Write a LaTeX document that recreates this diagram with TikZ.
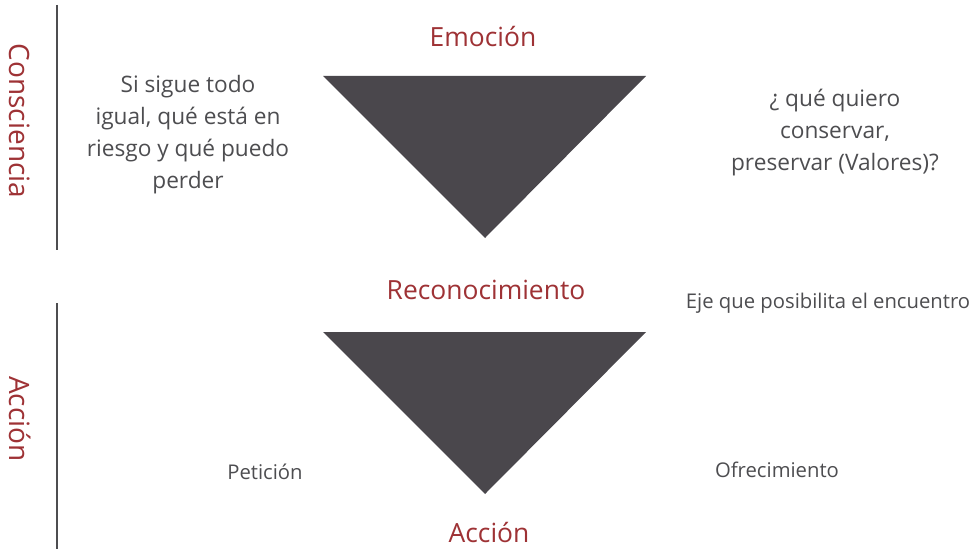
\documentclass[tikz,border=0pt]{standalone}
\usepackage{fontspec}
\setmainfont{Open Sans}
\usepackage{tikz}

\definecolor{rojo}{HTML}{9E3235}
\definecolor{oscuro}{HTML}{4A474C}
\definecolor{texto}{HTML}{4D4D50}

\tikzset{
  titulo/.style={text=rojo, inner sep=0pt, font=\fontsize{19.8}{22}\selectfont},
  lado/.style={text=rojo, font=\fontsize{21}{24}\selectfont, rotate=-90},
  cuerpo/.style={text=texto, align=center, font=\fontsize{17}{24}\selectfont},
  nota/.style={text=texto, font=\fontsize{15.2}{18}\selectfont},
  eje/.style={draw=texto, line width=1.5pt}
}

\begin{document}
\begin{tikzpicture}[x=0.75pt,y=-0.75pt]
%\draw (0,0) grid[step=50] (974,549);
\useasboundingbox (0,0) rectangle (974,549);

\coordinate (c1) at (57,5);
\coordinate (c2) at (57,250);
\coordinate (a1) at (57,303);
\coordinate (a2) at (57,549);
\draw [eje] (c1) -- (c2);
\draw [eje] (a1) -- (a2);

\fill[oscuro] (323,76) -- (646,76) -- (485,238) -- cycle;
\fill[oscuro] (323,332) -- (646,332) -- (485,494) -- cycle;

\node [titulo] (emocion) at (483,37) {Emoción};
\node [titulo] (reconocimiento) at (486,290) {Reconocimiento};
\node [titulo] (accion) at (489,533) {Acción};

\node [lado] (consciencia) at (20,121) {Consciencia};
\node [lado] (accionlado) at (20,419) {Acción};

\node [cuerpo] (riesgo) at (188,135) {Si sigue todo\\ igual, qué está en\\ riesgo y qué puedo\\ perder};
\node [cuerpo] (valores) at (835,133) {¿ qué quiero\\ conservar,\\ preservar (Valores)?};

\node [nota] (eje) at (828,303) {Eje que posibilita el encuentro};
\node [nota] (peticion) at (265,472) {Petición};
\node [nota] (ofrecimiento) at (777,470) {Ofrecimiento};
\end{tikzpicture}
\end{document}
